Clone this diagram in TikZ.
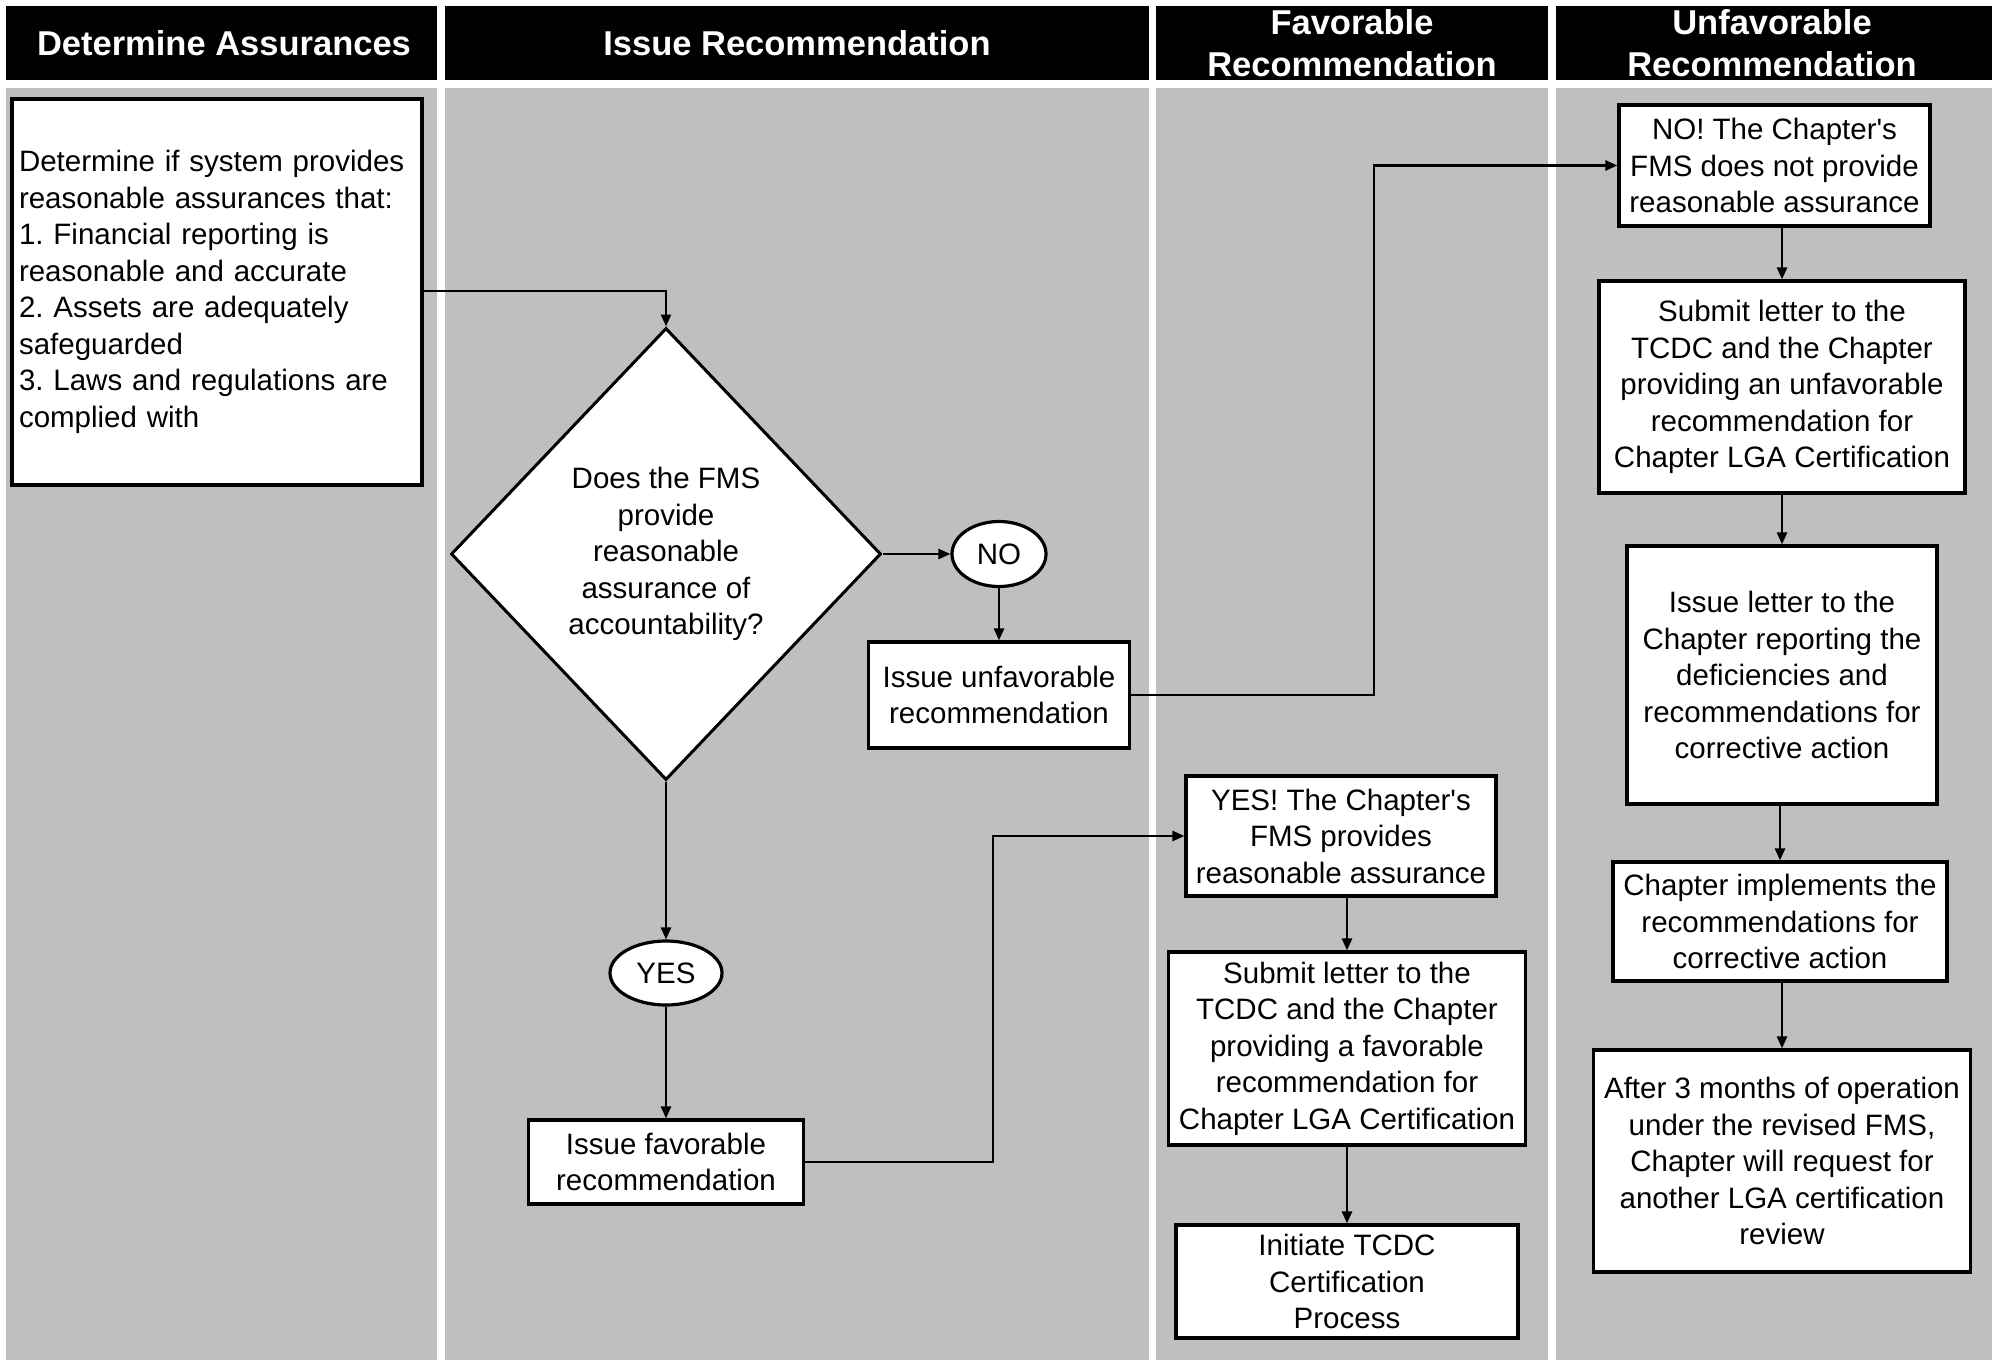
\documentclass[tikz,border=0pt]{standalone}
\usepackage{fontspec}
\setmainfont{Liberation Sans}[Ligatures=TeXOff]
\usetikzlibrary{shapes.geometric,arrows.meta}
\definecolor{lanegray}{RGB}{191,191,191}
\frenchspacing
\begin{document}
\begin{tikzpicture}[x=0.5pt,y=-0.5pt,
        lane/.style={fill=lanegray},
        hdr/.style={text=white,align=center,font=\fontsize{17.25}{21}\selectfont\bfseries},
        box/.style={draw,line width=1.6pt,fill=white,align=center,inner sep=0pt,font=\fontsize{14.75}{18.25}\selectfont},
        decision/.style={draw,diamond,line width=1.5pt,fill=white,align=center,inner sep=0pt,font=\fontsize{14.75}{18.25}\selectfont},
        answer/.style={draw,ellipse,line width=1.6pt,fill=white,inner sep=0pt,font=\fontsize{14.75}{18.25}\selectfont},
        arr/.style={line width=1.3pt,-{Triangle[length=6pt,width=5pt]}}]
                \useasboundingbox (0,0) rectangle (1997,1360);
                %% lanes and headers
                \fill[lane] (6,88) rectangle (437,1360);
                \fill[lane] (445,88) rectangle (1149,1360);
                \fill[lane] (1156,88) rectangle (1548,1360);
                \fill[lane] (1556,88) rectangle (1992,1360);
                \fill (6,6) rectangle (437,80);
                \fill (445,6) rectangle (1149,80);
                \fill (1156,6) rectangle (1548,80);
                \fill (1556,6) rectangle (1992,80);
                \node[hdr] (h1) at (224,43) {Determine Assurances};
                \node[hdr] (h2) at (797,43) {Issue Recommendation};
                \node[hdr] (h3) at (1352,43) {Favorable\\Recommendation};
                \node[hdr] (h4) at (1772,43) {Unfavorable\\Recommendation};
                %% determine and decide
                \node[box,align=left,inner xsep=3.5pt,text width=198pt,minimum height=193pt] (A) at (217,292)
                    {Determine if system provides\\reasonable assurances that:\\1. Financial reporting is\\reasonable and accurate\\2. Assets are adequately\\safeguarded\\3. Laws and regulations are\\complied with};
                \node[decision,minimum width=215pt,minimum height=226pt] (D) at (666,554)
                    {Does the FMS\\provide\\reasonable\\assurance of\\accountability?};
                \node[answer,minimum width=47pt,minimum height=32.5pt] (no) at (999,554) {NO};
                \node[box,minimum width=130.5pt,minimum height=53pt] (U1) at (999,695) {Issue unfavorable\\recommendation};
                \node[answer,minimum width=56pt,minimum height=32pt] (yes) at (666,973) {YES};
                \node[box,minimum width=137.5pt,minimum height=42pt] (F1) at (666,1162) {Issue favorable\\recommendation};
                %% favorable branch
                \node[box,minimum width=155pt,minimum height=60pt] (F2) at (1341,836)
                    {YES! The Chapter's\\FMS provides\\reasonable assurance};
                \node[box,minimum width=178.5pt,minimum height=96.5pt] (F3) at (1347,1048.5)
                    {Submit letter to the\\TCDC and the Chapter\\providing a favorable\\recommendation for\\Chapter LGA Certification};
                \node[box,minimum width=171pt,minimum height=56.5pt] (F4) at (1347,1281.5)
                    {Initiate TCDC\\Certification\\Process};
                %% unfavorable branch
                \node[box,minimum width=155.5pt,minimum height=60.5pt] (N1) at (1774.5,165.5)
                    {NO! The Chapter's\\FMS does not provide\\reasonable assurance};
                \node[box,minimum width=183pt,minimum height=106pt] (U2) at (1782,387)
                    {Submit letter to the\\TCDC and the Chapter\\providing an unfavorable\\recommendation for\\Chapter LGA Certification};
                \node[box,minimum width=155pt,minimum height=129pt] (U3) at (1782,675)
                    {Issue letter to the\\Chapter reporting the\\deficiencies and\\recommendations for\\corrective action};
                \node[box,minimum width=167pt,minimum height=59.5pt] (U4) at (1780,921.5)
                    {Chapter implements the\\recommendations for\\corrective action};
                \node[box,minimum width=188.5pt,minimum height=111pt] (U5) at (1782,1161)
                    {After 3 months of operation\\under the revised FMS,\\Chapter will request for\\another LGA certification\\review};
                %% connectors
                \draw[arr] (A.east |- 0,291) -| (D.north);
                \draw[arr] (D.east) -- (no.west);
                \draw[arr] (no.south) -- (U1.north);
                \draw[arr] (U1.east) -- ++(243,0) |- (N1.west);
                \draw[arr] (D.south) -- (yes.north);
                \draw[arr] (yes.south) -- (F1.north);
                \draw[arr] (F1.east) -- ++(188,0) |- (F2.west);
                \draw[arr] (F2.south -| F3.north) -- (F3.north);
                \draw[arr] (F3.south) -- (F4.north);
                \draw[arr] (N1.south -| U2.north) -- (U2.north);
                \draw[arr] (U2.south) -- (U3.north);
                \draw[arr] (U3.south -| U4.north) -- (U4.north);
                \draw[arr] (U4.south -| U5.north) -- (U5.north);
            \end{tikzpicture}
\end{document}
